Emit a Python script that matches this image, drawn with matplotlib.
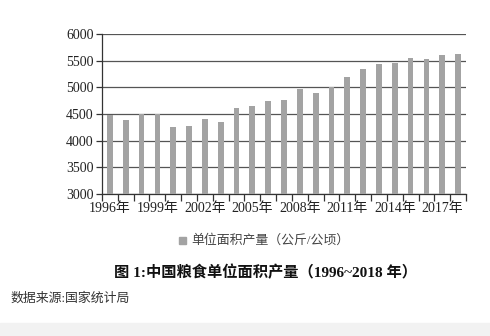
import matplotlib
matplotlib.use("Agg")
import matplotlib.pyplot as plt
from matplotlib.patches import Rectangle

years = list(range(1996, 2019))
values = [4483, 4387, 4494, 4493, 4255, 4274, 4400, 4349, 4619, 4644, 4751,
          4770, 4971, 4889, 5002, 5203, 5347, 5435, 5454, 5554, 5542, 5617, 5630]
yticks = [3000, 3500, 4000, 4500, 5000, 5500, 6000]
legend_label = "单位面积产量（公斤/公顷）"
title = "图 1:中国粮食单位面积产量（1996~2018 年）"
source = "数据来源:国家统计局"

FAM = ['Liberation Serif', 'Noto Sans CJK SC', 'DejaVu Sans']
plt.rcParams['font.family'] = FAM

fig = plt.figure(figsize=(4.9, 3.36), dpi=100)
W, H = 490, 336
ax = fig.add_axes([102 / W, 1 - 193.7 / H, (466 - 102) / W, (193.7 - 34.3) / H])

x = list(range(len(years)))
bar_color = '#a3a3a3'
ax.bar(x, values, width=0.36, color=bar_color, zorder=3)
ax.set_ylim(3000, 6000)
ax.set_xlim(-0.5, len(years) - 0.5)
ax.set_yticks(yticks)
ax.set_yticklabels([str(v) for v in yticks], fontsize=10, color='#222222')
ax.yaxis.grid(True, color='#555555', linewidth=0.9, zorder=1)
ax.set_axisbelow(True)

# category labels every 3 years, ticks at category boundaries
ax.set_xticks([i for i in x if (years[i] - 1996) % 3 == 0])
ax.set_xticklabels([f"{years[i]}年" for i in x if (years[i] - 1996) % 3 == 0],
                   fontsize=10, color='#222222')
ax.tick_params(axis='x', which='major', length=0, pad=6)
ax.set_xticks([i - 0.5 for i in range(len(years) + 1)], minor=True)
ax.tick_params(axis='x', which='minor', length=5, width=0.9, color='#333333', direction='out')
ax.tick_params(axis='y', length=4, width=0.9, color='#333333', pad=2)

for s in ['top', 'right']:
    ax.spines[s].set_visible(False)
for s in ['left', 'bottom']:
    ax.spines[s].set_color('#333333')
    ax.spines[s].set_linewidth(0.9)

# legend
fig.patches.append(Rectangle((179 / W, 1 - 244 / H), 7 / W, 7 / H,
                             transform=fig.transFigure, color=bar_color))
fig.text(191 / W, 1 - 240.5 / H, legend_label, fontsize=9.3, color='#444444',
         va='center', ha='left')

fig.text(265 / W, 1 - 272 / H, title, fontsize=11, fontweight='bold',
         color='#111111', ha='center', va='center')
fig.text(10 / W, 1 - 298 / H, source, fontsize=9.3, color='#333333',
         ha='left', va='center')

# bottom light band
fig.patches.append(Rectangle((0, 0), 1, 13 / H, transform=fig.transFigure,
                             color='#f2f2f2', zorder=0))

fig.savefig('out.png', dpi=100)
